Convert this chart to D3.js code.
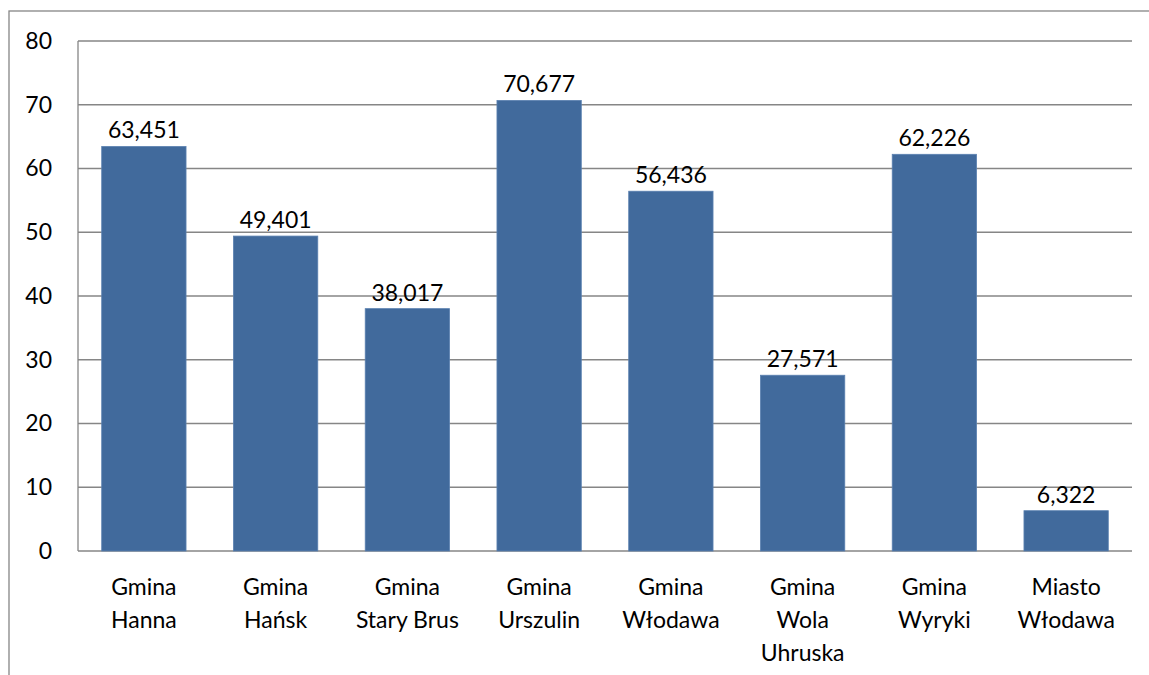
<!DOCTYPE html>
<html><head><meta charset="utf-8">
<script src="https://cdn.jsdelivr.net/npm/d3@7"></script>
<style>body{margin:0;background:#fff}svg{display:block}text{font-family:Lato,"Open Sans",sans-serif;fill:#000}</style>
</head><body>
<script>
const categories = [["Gmina","Hanna"],["Gmina","Hańsk"],["Gmina","Stary Brus"],["Gmina","Urszulin"],["Gmina","Włodawa"],["Gmina","Wola","Uhruska"],["Gmina","Wyryki"],["Miasto","Włodawa"]];
const values = [63.451, 49.401, 38.017, 70.677, 56.436, 27.571, 62.226, 6.322];
const valueLabels = ["63,451","49,401","38,017","70,677","56,436","27,571","62,226","6,322"];
const yTicks = [0,10,20,30,40,50,60,70,80];

const W = 1149, H = 675;
const m = {left:78, top:41, right:1132, bottom:551};
const FS = 23;
const svg = d3.select("body").append("svg").attr("width",W).attr("height",H);

// outer frame
svg.append("rect").attr("x",9).attr("y",11).attr("width",W).attr("height",H)
  .attr("fill","none").attr("stroke","#868686").attr("stroke-width",1.3);

const x = d3.scaleBand().domain(d3.range(categories.length)).range([m.left,m.right]).paddingInner(0.36).paddingOuter(0.18);
const y = d3.scaleLinear().domain([0,80]).range([m.bottom,m.top]);

// gridlines
svg.append("g").selectAll("line").data(yTicks).join("line")
  .attr("x1",m.left).attr("x2",m.right).attr("y1",d=>y(d)).attr("y2",d=>y(d))
  .attr("stroke","#868686").attr("stroke-width",1.3);
svg.append("line").attr("x1",m.left).attr("x2",m.left).attr("y1",m.top).attr("y2",m.bottom)
  .attr("stroke","#868686").attr("stroke-width",1.3);

// y axis labels
const yAxis = d3.axisLeft(y).tickValues(yTicks).tickSize(0).tickPadding(26);
const ga = svg.append("g").attr("transform",`translate(${m.left},0)`).call(yAxis);
ga.select(".domain").remove();
ga.selectAll("text").attr("font-size",FS).attr("font-family","Lato").attr("fill","#000");

// bars
svg.append("g").selectAll("rect").data(values).join("rect")
  .attr("x",(d,i)=>x(i)).attr("width",x.bandwidth())
  .attr("y",d=>y(d)).attr("height",d=>y(0)-y(d))
  .attr("fill","#416a9c").attr("stroke","#5a80b0").attr("stroke-width",0.8);

// value labels
svg.append("g").selectAll("text").data(values).join("text")
  .attr("x",(d,i)=>x(i)+x.bandwidth()/2).attr("y",d=>y(d)-8)
  .attr("text-anchor","middle").attr("font-size",FS).text((d,i)=>valueLabels[i]);

// category labels
const cg = svg.append("g").selectAll("text").data(categories).join("text")
  .attr("text-anchor","middle").attr("font-size",FS)
  .attr("transform",(d,i)=>`translate(${x(i)+x.bandwidth()/2},595)`);
cg.selectAll("tspan").data(d=>d).join("tspan").attr("x",0).attr("dy",(d,j)=>j===0?0:33).text(d=>d);
</script>
</body></html>
